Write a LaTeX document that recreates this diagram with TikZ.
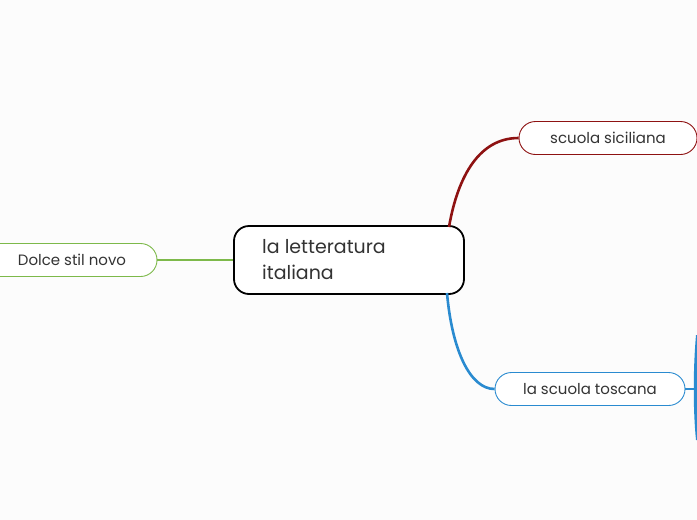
\documentclass[tikz,border=0pt]{standalone}
\usepackage{fontspec}
\setmainfont{Poppins}
\definecolor{bg}{HTML}{FCFCFC}
\definecolor{txt}{HTML}{333333}
\definecolor{sicred}{HTML}{8E1212}
\definecolor{tosblue}{HTML}{2A8BD0}
\definecolor{dolgreen}{HTML}{7DB94A}
\begin{document}
\begin{tikzpicture}[x=1pt,y=-1pt,
  central/.style={draw=black,line width=1.8pt,rounded corners=15pt,fill=white,minimum width=230pt,minimum height=68pt,inner sep=0pt},
  topic/.style={draw=#1,line width=0.9pt,rounded corners=16.5pt,fill=white,minimum height=33pt,inner sep=0pt,text=txt,font=\fontsize{15}{18}\selectfont},
  link/.style={draw=#1,line width=2.6pt}
]
\useasboundingbox[fill=bg] (0,0) rectangle (697,520);
\node[central] (c) at (349,260) {};
\node[anchor=west,align=left,text=txt,font=\fontsize{19}{26}\selectfont,inner sep=0pt] (ct) at (262,260) {la letteratura\\italiana};
\node[topic=sicred,minimum width=178pt] (s) at (608,138) {scuola siciliana};
\node[topic=tosblue,minimum width=190pt] (t) at (590,389) {la scuola toscana};
\node[topic=dolgreen,minimum width=180pt] (d) at (67,260) {};
\node[text=txt,font=\fontsize{15}{18}\selectfont] (dt) at (72,260) {Dolce stil novo};
\coordinate (cs) at (449,227);
\coordinate (ctb) at (447,293);
\coordinate (tr) at (697,389);
\draw[link=sicred] (cs) .. controls (458,175) and (480,138) .. (s.west);
\draw[link=tosblue] (ctb) .. controls (452,350) and (470,389) .. (t.west);
\draw[link=tosblue] (t.east) -- (tr);
\fill[tosblue] (696,335) .. controls (693,370) and (693,410) .. (696,440) -- (697,440) -- (697,335) -- cycle;
\draw[link=dolgreen] (d.east) -- (c.west);
\end{tikzpicture}
\end{document}
